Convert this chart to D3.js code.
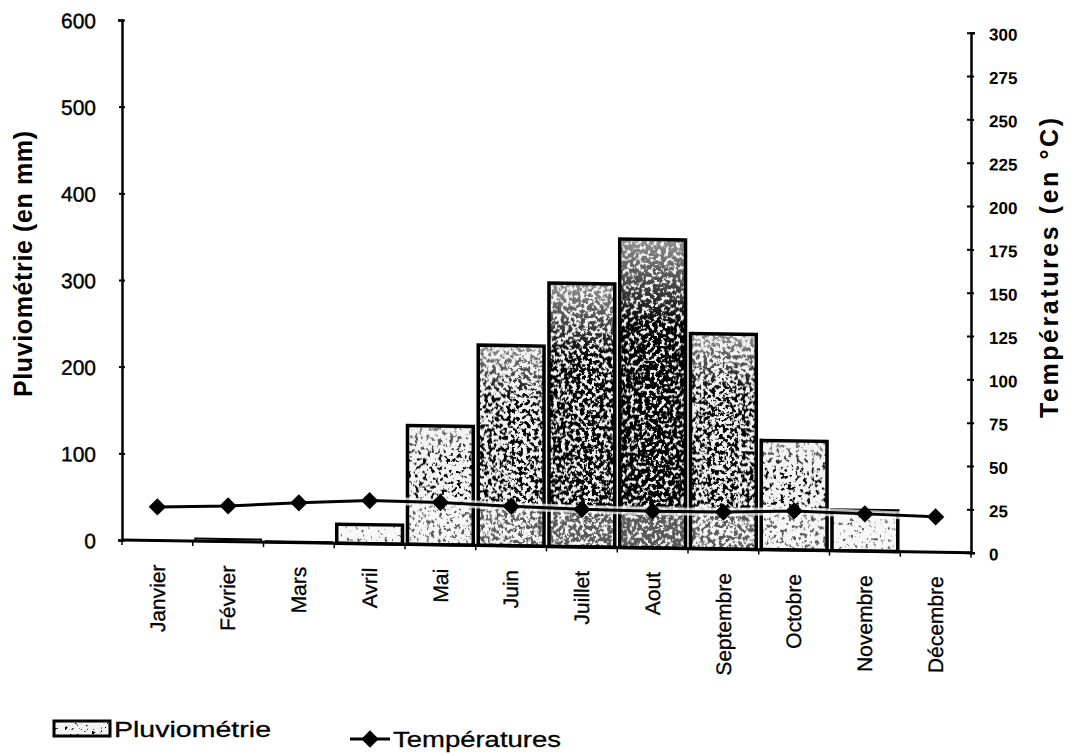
<!DOCTYPE html>
<html>
<head>
<meta charset="utf-8">
<script src="https://cdn.jsdelivr.net/npm/d3@7/dist/d3.min.js"></script>
<style>
  html, body { margin: 0; padding: 0; background: #fff; }
  svg { display: block; }
  text { font-family: "Liberation Sans", Arial, sans-serif; fill: #000; }
</style>
</head>
<body>
<svg id="chart" width="1073" height="755"></svg>
<script>
// Monthly rainfall (mm) and mean temperature (°C)
const months = ["Janvier", "Février", "Mars", "Avril", "Mai", "Juin", "Juillet",
                "Aout", "Septembre", "Octobre", "Novembre", "Décembre"];
const rainfall = [0, 3, 1, 22, 137, 231, 304, 356, 248, 126, 47, 0];
const temperature = [19.4, 20.6, 23.0, 24.9, 24.4, 22.8, 21.7, 21.2, 21.3, 22.6, 21.5, 20.4];
const rainTicks = [0, 100, 200, 300, 400, 500, 600];
const tempTicks = [0, 25, 50, 75, 100, 125, 150, 175, 200, 225, 250, 275, 300];

const svg = d3.select("#chart");
svg.append("rect").attr("width", 1073).attr("height", 755).attr("fill", "#fff");

const plot = { left: 122, right: 971, top: 20, bottom: 540 };
const slope = 0.015; // the printed page sits slightly askew

const x = d3.scaleBand().domain(months)
  .range([plot.left, plot.right]).paddingInner(0.07).paddingOuter(0.035);
const yRain = d3.scaleLinear().domain([0, 600]).range([plot.bottom, plot.top]);
const yTemp = d3.scaleLinear().domain([0, 300]).range([plot.bottom, plot.top]);

// speckled fill, denser for the wetter months
const defs = svg.append("defs");
const density = d3.scaleLinear().domain([0, 360]).range([0.12, 0.74]);
function grainFilter(id, d, seed) {
  const t = 0.5 - 0.45 * (d - 0.5);
  const f = defs.append("filter").attr("id", id)
    .attr("x", 0).attr("y", 0).attr("width", 1).attr("height", 1);
  f.append("feTurbulence").attr("type", "fractalNoise").attr("baseFrequency", 0.26)
    .attr("numOctaves", 4).attr("seed", seed).attr("result", "n");
  f.append("feColorMatrix").attr("in", "n").attr("type", "matrix")
    .attr("values", `0 0 0 0 0  0 0 0 0 0  0 0 0 0 0  12 0 0 0 ${-12 * t}`)
    .attr("result", "dots");
  f.append("feComposite").attr("in", "dots").attr("in2", "SourceAlpha").attr("operator", "in");
}
rainfall.forEach((v, i) => grainFilter("grain" + i, density(v), i * 7 + 3));
grainFilter("grainLegend", 0.15, 41);

const fade = defs.append("linearGradient").attr("id", "fade")
  .attr("x1", 0).attr("y1", 0).attr("x2", 0).attr("y2", 1);
[[0, 0.4], [0.28, 1], [1, 1]].forEach(([o, a]) =>
  fade.append("stop").attr("offset", o).attr("stop-color", "#fff").attr("stop-opacity", a));
defs.append("mask").attr("id", "fadeMask").attr("maskContentUnits", "objectBoundingBox")
  .append("rect").attr("width", 1).attr("height", 1).attr("fill", "url(#fade)");

const g = svg.append("g")
  .attr("transform", `matrix(1, ${slope}, 0, 1, 0, ${-slope * plot.left})`);

// bars
const bars = g.append("g");
months.forEach((m, i) => {
  const v = rainfall[i];
  const x0 = x(m), w = x.bandwidth(), y0 = yRain(v), h = yRain(0) - yRain(v);
  bars.append("rect").attr("x", x0).attr("y", y0).attr("width", w).attr("height", h)
    .attr("fill", "#f3f3f3");
  if (h > 0) {
    bars.append("rect").attr("x", x0).attr("y", y0).attr("width", w).attr("height", h)
      .attr("fill", "#000").attr("filter", `url(#grain${i})`).attr("mask", "url(#fadeMask)");
    // lighter band under the temperature curve
    const yl = Math.max(y0, yRain(0) - 42);
    bars.append("rect").attr("x", x0).attr("y", yl).attr("width", w).attr("height", yRain(0) - yl)
      .attr("fill", "#fff").attr("fill-opacity", 0.35);
  }
  bars.append("rect").attr("x", x0).attr("y", y0).attr("width", w).attr("height", h)
    .attr("fill", "none").attr("stroke", "#000").attr("stroke-width", h > 6 ? 3.5 : 2);
});

// left axis
const axL = g.append("g").attr("transform", `translate(${plot.left},0)`)
  .call(d3.axisLeft(yRain).tickValues(rainTicks).tickSize(4).tickPadding(22));
axL.select(".domain").attr("stroke-width", 2.5);
axL.selectAll(".tick line").attr("stroke-width", 2).attr("x2", 3).attr("x1", -3);
axL.selectAll("text").attr("font-size", 21).attr("stroke", "#000").attr("stroke-width", 0.4)
  .attr("dy", "0.4em");

// right axis
const axR = g.append("g").attr("transform", `translate(${plot.right},0)`)
  .call(d3.axisRight(yTemp).tickValues(tempTicks).tickSize(4).tickPadding(14));
axR.select(".domain").attr("stroke-width", 2.5);
axR.selectAll(".tick line").attr("stroke-width", 2).attr("x1", -4).attr("x2", 3);
axR.selectAll("text").attr("font-size", 17).attr("font-weight", "bold").attr("dy", "0.4em");

// base line with ticks between months
g.append("line").attr("x1", plot.left).attr("x2", plot.right)
  .attr("y1", plot.bottom).attr("y2", plot.bottom).attr("stroke", "#000").attr("stroke-width", 3);
d3.range(months.length + 1).forEach(i => {
  const xb = plot.left + i * (plot.right - plot.left) / months.length;
  g.append("line").attr("x1", xb).attr("x2", xb).attr("y1", plot.bottom)
    .attr("y2", plot.bottom + 5).attr("stroke", "#000").attr("stroke-width", 1.5);
});

// month labels
g.append("g").selectAll("text").data(months).join("text")
  .attr("transform", d => `translate(${x(d) + x.bandwidth() / 2},564) rotate(-90)`)
  .attr("text-anchor", "end").attr("dy", "0.35em")
  .attr("font-size", 21).attr("stroke", "#000").attr("stroke-width", 0.3)
  .text(d => d);

// temperature line
const cx = (d, i) => x(months[i]) + x.bandwidth() / 2;
const line = d3.line().x((d, i) => cx(d, i)).y(d => yTemp(d));
g.append("path").datum(temperature).attr("d", line)
  .attr("fill", "none").attr("stroke", "#fff").attr("stroke-width", 8).attr("stroke-opacity", 0.7);
g.append("path").datum(temperature).attr("d", line)
  .attr("fill", "none").attr("stroke", "#000").attr("stroke-width", 3);
const diamond = d3.symbol(d3.symbolSquare, 150);
g.append("g").selectAll("path").data(temperature).join("path")
  .attr("transform", (d, i) => `translate(${cx(d, i)},${yTemp(d)}) rotate(45)`)
  .attr("d", diamond).attr("fill", "#000");

// axis titles
svg.append("text").attr("transform", "translate(32,264) rotate(-90)")
  .attr("text-anchor", "middle").attr("font-size", 25).attr("font-weight", "bold")
  .attr("textLength", 266).attr("lengthAdjust", "spacing")
  .text("Pluviométrie (en mm)");
svg.append("text").attr("transform", "translate(1058,268) rotate(-90)")
  .attr("text-anchor", "middle").attr("font-size", 25).attr("font-weight", "bold")
  .attr("textLength", 300).attr("lengthAdjust", "spacing")
  .text("Températures (en °C)");

// legend
const lg = svg.append("g");
lg.append("rect").attr("x", 54).attr("y", 721).attr("width", 56).attr("height", 15)
  .attr("fill", "#f3f3f3");
lg.append("rect").attr("x", 54).attr("y", 721).attr("width", 56).attr("height", 15)
  .attr("fill", "#000").attr("filter", "url(#grainLegend)");
lg.append("rect").attr("x", 54).attr("y", 721).attr("width", 56).attr("height", 15)
  .attr("fill", "none").attr("stroke", "#000").attr("stroke-width", 3);
lg.append("text").attr("x", 114).attr("y", 737).attr("font-size", 22)
  .attr("textLength", 157).attr("lengthAdjust", "spacingAndGlyphs")
  .attr("stroke", "#000").attr("stroke-width", 0.3).text("Pluviométrie");
lg.append("line").attr("x1", 350).attr("x2", 390).attr("y1", 739).attr("y2", 739)
  .attr("stroke", "#000").attr("stroke-width", 3);
lg.append("path").attr("transform", "translate(370,739) rotate(45)")
  .attr("d", diamond).attr("fill", "#000");
lg.append("text").attr("x", 393).attr("y", 747).attr("font-size", 22)
  .attr("textLength", 168).attr("lengthAdjust", "spacingAndGlyphs")
  .attr("stroke", "#000").attr("stroke-width", 0.3).text("Températures");
</script>
</body>
</html>
